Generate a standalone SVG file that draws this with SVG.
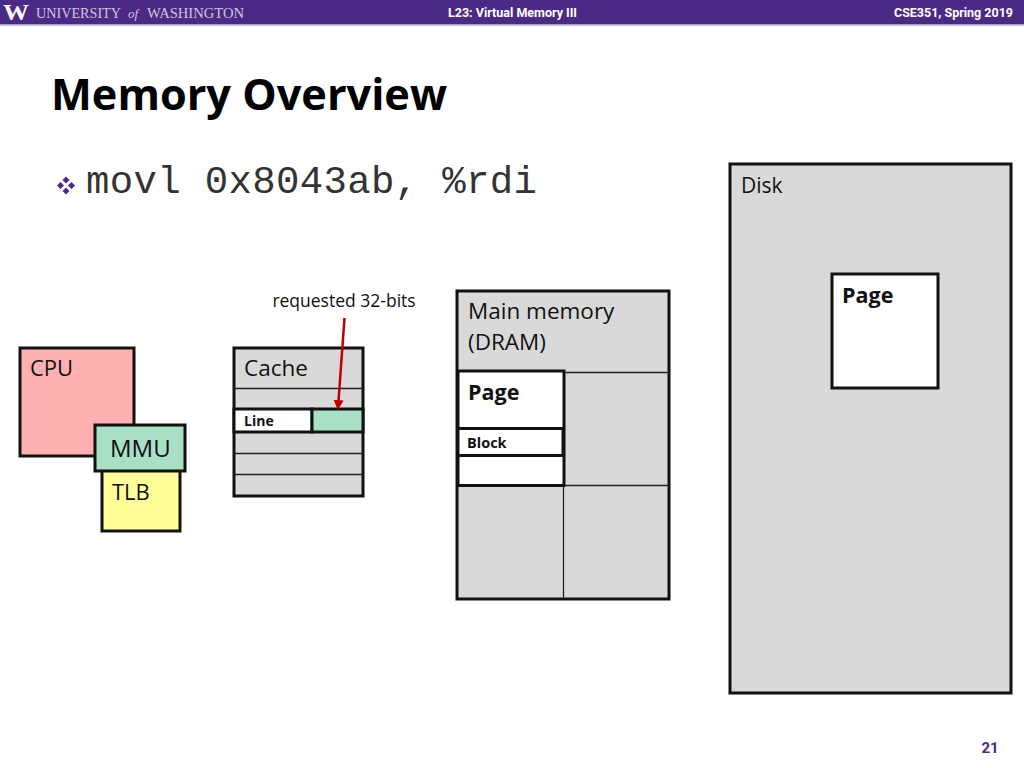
<svg xmlns="http://www.w3.org/2000/svg" width="1024" height="768" viewBox="0 0 1024 768">
<style>
.s{font-family:"Open Sans","Noto Sans",sans-serif;fill:#111}
.b{font-family:"Open Sans","Noto Sans",sans-serif;font-weight:700;fill:#111}
.box{stroke:#111;stroke-width:3}
.thin{stroke:#222;stroke-width:1.3;fill:none}
.hdr{font-family:Roboto,"Liberation Sans",sans-serif;font-weight:700;font-size:13px;fill:#fff}
.uw{font-family:"Liberation Serif",serif;font-size:15px;fill:#cfc5e0}
</style>
<defs><marker id="ah" markerWidth="11" markerHeight="11" refX="8" refY="5" orient="auto" markerUnits="userSpaceOnUse"><path d="M0 0L10 5L0 10Z" fill="#c00000"/></marker></defs>
<rect width="1024" height="25" fill="#4b2a85"/>
<rect y="24" width="1024" height="1.5" fill="#a99bc9"/>
<g id="header">
<text x="3" y="20" font-family="Liberation Serif,serif" font-weight="700" font-size="23" fill="#fff" textLength="26" lengthAdjust="spacingAndGlyphs">W</text>
<text x="36" y="18" class="uw" textLength="85" lengthAdjust="spacingAndGlyphs">UNIVERSITY</text>
<text x="128" y="18" class="uw" font-size="13" font-style="italic" style="font-size:13px">of</text>
<text x="147" y="18" class="uw" textLength="97" lengthAdjust="spacingAndGlyphs">WASHINGTON</text>
<text x="448" y="17" class="hdr" textLength="129" lengthAdjust="spacingAndGlyphs">L23:  Virtual Memory III</text>
<text x="1013" y="17" class="hdr" text-anchor="end" textLength="119" lengthAdjust="spacingAndGlyphs">CSE351, Spring 2019</text>
</g>
<text id="title" x="51" y="110" class="b" font-size="43.500" style="fill:#000" textLength="396" lengthAdjust="spacingAndGlyphs">Memory Overview</text>
<g id="bullet">
<path d="M66 176.500l3.500 3.500-3.500 3.500-3.500-3.500zM60.500 182l3.500 3.500-3.500 3.500-3.500-3.500zM71.500 182l3.500 3.500-3.500 3.500-3.500-3.500zM66 187.500l3.500 3.500-3.500 3.500-3.500-3.500z" fill="#4b2a85"/>
<text x="86" y="193" font-family="Liberation Mono,monospace" font-size="39" fill="#333" textLength="451" lengthAdjust="spacing">movl 0x8043ab, %rdi</text>
</g>
<g id="cpu"><rect class="box" x="20" y="348" width="114" height="108" fill="#ffb0b0"/><text x="30" y="376" class="s" font-size="22">CPU</text></g>
<g id="tlb"><rect class="box" x="102" y="470" width="78" height="61" fill="#ffff99"/><text x="112" y="500" class="s" font-size="22">TLB</text></g>
<g id="mmu"><rect class="box" x="95" y="425" width="90" height="46" fill="#a9dfc5"/><text x="110" y="457" class="s" font-size="24">MMU</text></g>
<g id="cache">
<rect class="box" x="234" y="348" width="129" height="148" fill="#d9d9d9"/>
<path class="thin" d="M234 388.500H363M234 453.500H363M234 474.500H363"/>
<text x="244" y="376" class="s" font-size="22.500">Cache</text>
</g>
<g id="line">
<rect class="box" x="234" y="409" width="78" height="23" fill="#fff"/>
<rect class="box" x="312" y="409" width="51" height="23" fill="#a9dfc5"/>
<text x="244" y="426" class="b" font-size="14">Line</text>
</g>
<text id="requested" x="344" y="307" class="s" font-size="17.500" text-anchor="middle">requested 32-bits</text>
<g id="connectors"><line x1="344.500" y1="318" x2="338" y2="408" stroke="#c00000" stroke-width="2.500" marker-end="url(#ah)"/></g>
<g id="dram">
<rect class="box" x="457" y="291" width="212" height="308" fill="#d9d9d9"/>
<path class="thin" d="M457 372.500H669M457 485.500H669M563.500 372V599"/>
<text x="468" y="319" class="s" font-size="22.500">Main memory</text>
<text x="468" y="350" class="s" font-size="22.500">(DRAM)</text>
</g>
<g id="dram-page">
<rect class="box" x="458" y="371" width="106" height="114.500" fill="#fff"/>
<text x="468" y="400" class="b" font-size="21.500">Page</text>
</g>
<g id="block">
<rect class="box" x="458" y="428.500" width="105" height="27" fill="#fff"/>
<text x="467" y="448" class="b" font-size="14.500">Block</text>
</g>
<g id="disk">
<rect class="box" x="730" y="164" width="281" height="529" fill="#d9d9d9"/>
<text x="741" y="193" class="s" font-size="21">Disk</text>
</g>
<g id="disk-page">
<rect class="box" x="832" y="274" width="106" height="114" fill="#fff"/>
<text x="842" y="303" class="b" font-size="21.500">Page</text>
</g>
<text id="page-number" x="990" y="753" font-family="Roboto,sans-serif" font-weight="700" font-size="15" fill="#4b2a85" text-anchor="middle">21</text>
</svg>
